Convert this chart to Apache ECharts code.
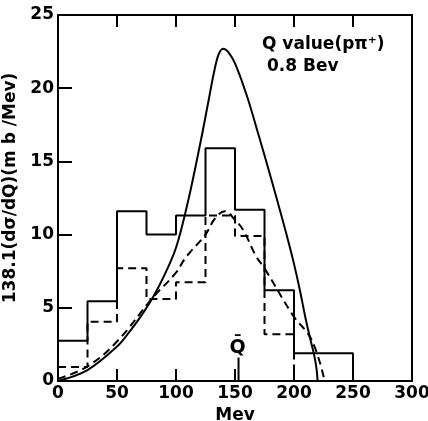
<!DOCTYPE html>
<html>
<head>
<meta charset="utf-8">
<script src="https://cdn.jsdelivr.net/npm/echarts@6/dist/echarts.min.js"></script>
<style>
  html, body { margin: 0; padding: 0; background: #fff; }
  #main { width: 428px; height: 421px; }
</style>
</head>
<body>
<div id="main"></div>
<script>
// histogram bins (Mev) and heights
var binEdges = [0, 25, 50, 75, 100, 125, 150, 175, 200, 225, 250];
var solidHist = [2.75, 5.45, 11.6, 10.0, 11.3, 15.9, 11.7, 6.2, 1.9, 1.9];
var dashedHist = [0.95, 4.05, 7.7, 5.6, 6.75, 11.3, 9.9, 3.2];

// smooth curves
var solidCurveX = [0, 25, 50, 60, 70, 80, 90, 100, 110, 120, 127, 132, 136, 140, 144, 150, 160, 170, 180, 190, 195, 200, 205, 210, 214, 217, 219, 220];
var solidCurveY = [0, 0.75, 2.35, 3.3, 4.4, 5.66, 7.2, 9.1, 12.2, 16.0, 18.9, 21.0, 22.3, 22.7, 22.5, 21.7, 19.5, 16.8, 14.0, 11.1, 9.6, 8.0, 6.2, 4.2, 2.8, 1.8, 0.9, 0];
var dashedCurveX = [0, 25, 50, 80, 100, 107, 112, 125, 133, 141.5, 150, 157, 168, 175, 199, 215, 226];
var dashedCurveY = [0.15, 1.0, 2.7, 5.66, 7.4, 8.3, 8.8, 10.0, 11.1, 11.6, 11.0, 10.3, 8.5, 7.7, 4.5, 2.8, 0];

var qBarX = 153;
var qBarTop = 1.6;

var xTicks = [0, 50, 100, 150, 200, 250, 300];
var yTicks = [0, 5, 10, 15, 20, 25];

function histPoints(vals) {
  var pts = [];
  for (var i = 0; i < vals.length; i++) pts.push([binEdges[i], vals[i]]);
  pts.push([binEdges[vals.length], 0]);
  return pts;
}
function zip(xs, ys) {
  return xs.map(function (x, i) { return [x, ys[i]]; });
}

var font = 'DejaVu Sans';
var myChart = echarts.init(document.getElementById('main'));

var option = {
  animation: false,
  grid: { left: 58, right: 16, top: 15, bottom: 40, outerBoundsMode: 'none', containLabel: false },
  xAxis: [{
    type: 'value', min: xTicks[0], max: xTicks[xTicks.length - 1], interval: 50,
    name: 'Mev', nameLocation: 'middle', nameGap: 23,
    nameTextStyle: { color: '#000', fontFamily: font, fontWeight: 'bold', fontSize: 17 },
    axisLine: { onZero: false, lineStyle: { color: '#000', width: 2 } },
    axisTick: { inside: true, length: 12, lineStyle: { color: '#000', width: 2 } },
    axisLabel: { color: '#000', fontFamily: font, fontWeight: 'bold', fontSize: 17, margin: 4 },
    splitLine: { show: false }
  }, {
    type: 'value', position: 'top', min: 0, max: 300, interval: 50,
    axisLine: { show: true, onZero: false, lineStyle: { color: '#000', width: 2 } },
    axisTick: { inside: true, length: 12, lineStyle: { color: '#000', width: 2 } },
    axisLabel: { show: false },
    splitLine: { show: false }
  }],
  yAxis: [{
    type: 'value', min: yTicks[0], max: yTicks[yTicks.length - 1], interval: 5,
    name: '138.1(dσ/dQ)(m b /Mev)', nameLocation: 'middle', nameGap: 36,
    nameTextStyle: { color: '#000', fontFamily: font, fontWeight: 'bold', fontSize: 17, padding: [0, 0, 0, 20] },
    axisLine: { show: true, onZero: false, lineStyle: { color: '#000', width: 2 } },
    axisTick: { inside: true, length: 14, lineStyle: { color: '#000', width: 2 } },
    axisLabel: { color: '#000', fontFamily: font, fontWeight: 'bold', fontSize: 17, margin: 4 },
    splitLine: { show: false }
  }, {
    type: 'value', position: 'right', min: 0, max: 25, interval: 5,
    axisLine: { show: true, onZero: false, lineStyle: { color: '#000', width: 2 } },
    axisTick: { show: false },
    axisLabel: { show: false },
    splitLine: { show: false }
  }],
  series: [{
    type: 'line', step: 'end', data: histPoints(solidHist), symbol: 'none',
    lineStyle: { color: '#000', width: 2 }
  }, {
    type: 'line', step: 'end', data: histPoints(dashedHist), symbol: 'none',
    lineStyle: { color: '#000', width: 2, type: [8, 5] }
  }, {
    type: 'line', smooth: 0.35, data: zip(solidCurveX, solidCurveY), symbol: 'none',
    lineStyle: { color: '#000', width: 2 }
  }, {
    type: 'line', smooth: 0.4, data: zip(dashedCurveX, dashedCurveY), symbol: 'none',
    lineStyle: { color: '#000', width: 2, type: [8, 5] }
  }, {
    // Q bar marker
    type: 'line', data: [[qBarX, 0], [qBarX, qBarTop]], symbol: 'none',
    lineStyle: { color: '#000', width: 2 },
    endLabel: {
      show: true, formatter: 'Q\u0304', color: '#000', fontFamily: font,
      fontWeight: 'bold', fontSize: 19, offset: [-17, -10]
    }
  }],
  graphic: [{
    type: 'text', left: 262, top: 36,
    style: { text: 'Q value(pπ⁺)', fill: '#000', font: 'bold 17px "DejaVu Sans"' }
  }, {
    type: 'text', left: 267, top: 58,
    style: { text: '0.8 Bev', fill: '#000', font: 'bold 17px "DejaVu Sans"' }
  }]
};

myChart.setOption(option);
</script>
</body>
</html>
